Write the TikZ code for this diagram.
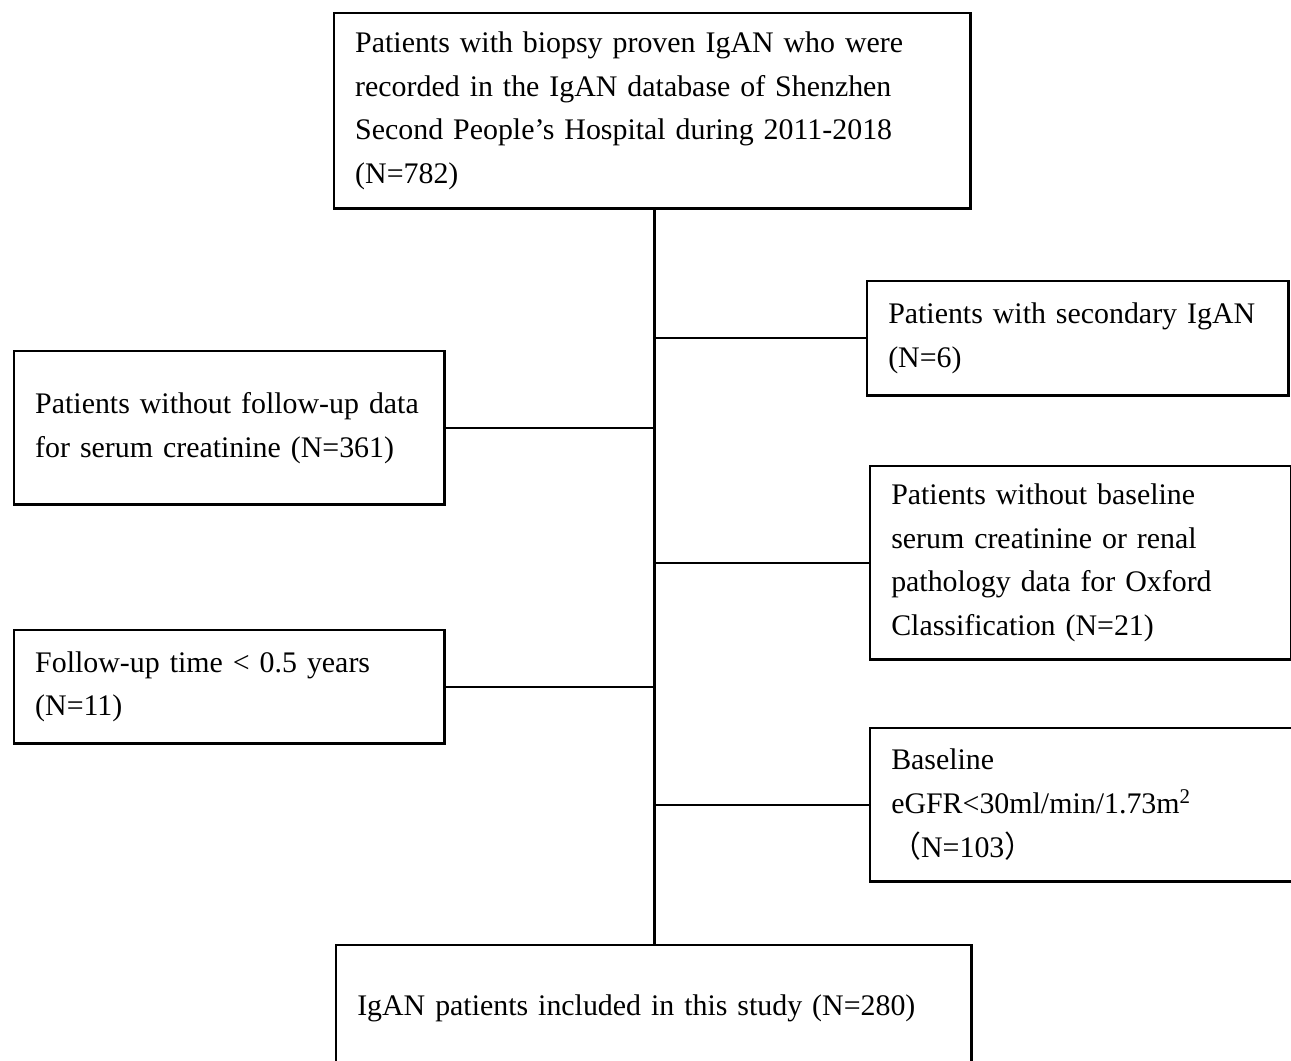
\documentclass[tikz,border=0pt]{standalone}
\usepackage{fontspec}
\setmainfont{Liberation Serif}
\newfontfamily\cjk{Noto Sans CJK SC}
\usetikzlibrary{calc}

\tikzset{
    flowbox/.style={draw, line width=0.7pt, anchor=north west, align=left,
        inner xsep=0.21cm, inner ysep=0pt,
        font=\fontsize{8.5}{12.45}\selectfont},
    link/.style={line width=0.7pt}
}

\begin{document}
\begin{tikzpicture}[x=0.01cm, y=-0.01cm]
    \useasboundingbox (0,0) rectangle (1291,1061);

    % Main column
    \node[flowbox, text width=5.94cm, minimum height=1.95cm] (start) at (333,12)
        {Patients with biopsy proven IgAN who were\\
         recorded in the IgAN database of Shenzhen\\
         Second People's Hospital during 2011-2018\\
         (N=782)};
    \node[flowbox, text width=5.93cm, minimum height=1.26cm] (included) at (335,944)
        {IgAN patients included in this study (N=280)};

    % Exclusions on the right
    \node[flowbox, text width=3.79cm, minimum height=1.14cm] (secondary) at (866,280)
        {Patients with secondary IgAN\\ (N=6)};
    \node[flowbox, text width=3.79cm, minimum height=1.93cm] (nobaseline) at (869,465)
        {Patients without baseline\\
         serum creatinine or renal\\
         pathology data for Oxford\\
         Classification (N=21)};
    \node[flowbox, text width=3.88cm, minimum height=1.53cm] (lowegfr) at (869,727)
        {Baseline\\
         eGFR<30ml/min/1.73m\textsuperscript{2}\\
         {\cjk （}N=103{\cjk ）}};

    % Exclusions on the left
    \node[flowbox, text width=3.88cm, minimum height=1.53cm] (nofollow) at (13,350)
        {Patients without follow-up data\\ for serum creatinine (N=361)};
    \node[flowbox, text width=3.88cm, minimum height=1.13cm] (shortfollow) at (13,629)
        {Follow-up time < 0.5 years\\ (N=11)};

    % Trunk
    \coordinate (trunktop) at ($(start.south)+(2,0)$);
    \draw[link] (trunktop) -- (trunktop |- included.north);

    % Branches
    \foreach \b in {secondary, nobaseline, lowegfr}
        \draw[link] (\b.west) -- (\b.west -| trunktop);
    \foreach \b in {nofollow, shortfollow}
        \draw[link] (\b.east) -- (\b.east -| trunktop);
\end{tikzpicture}
\end{document}
